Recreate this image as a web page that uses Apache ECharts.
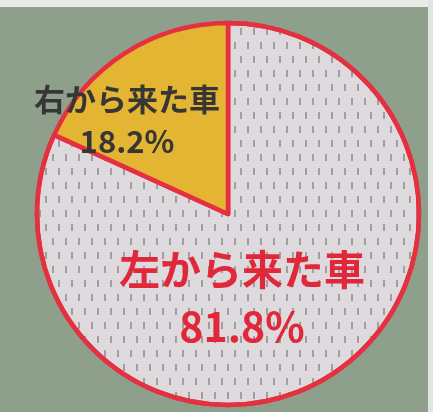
<!DOCTYPE html>
<html><head><meta charset="utf-8">
<script src="https://cdn.jsdelivr.net/npm/echarts@6/dist/echarts.min.js"></script>
<style>html,body{margin:0;padding:0;background:#8e9f8b;}#c{width:433px;height:412px;}</style>
</head><body><div id="c"></div>
<script>
const categories = ['左から来た車', '右から来た車'];
const values = [81.8, 18.2];
const sliceColors = ['#ddd9dc', '#e3b533'];
const labelColors = ['#e0283a', '#383634'];

const chart = echarts.init(document.getElementById('c'), null, {renderer: 'canvas'});
const labelPos = [{x: 242, y: 298}, {x: 127, y: 120}];
const dashDecal = {
  symbol: 'rect',
  symbolSize: 1,
  color: 'rgba(105,98,104,0.5)',
  dashArrayX: [[1.5, 10.5], [0, 6, 1.5, 4.5]],
  dashArrayY: [7, 7]
};
chart.setOption({
  backgroundColor: '#8e9f8b',
  animation: false,
  graphic: [
    {type: 'rect', shape: {x: 0, y: 0, width: 433, height: 7}, style: {fill: '#e6ebe8'}},
    {type: 'rect', shape: {x: 428, y: 0, width: 5, height: 412}, style: {fill: '#dfe5e1'}}
  ],
  series: [{
    type: 'pie',
    center: [228, 214],
    radius: 191,
    startAngle: 90,
    clockwise: true,
    silent: true,
    data: categories.map((c, i) => {
      const itemStyle = {color: sliceColors[i]};
      if (i === 0) itemStyle.decal = dashDecal;
      return {
        name: c,
        value: values[i],
        itemStyle: itemStyle,
        label: {
          color: labelColors[i],
          fontSize: i === 0 ? 41 : 31,
          lineHeight: i === 0 ? 57 : 42
        }
      };
    }),
    itemStyle: {borderColor: '#e5303f', borderWidth: 4.5},
    label: {
      show: true,
      position: 'inside',
      fontFamily: 'Noto Sans CJK JP',
      fontWeight: 'bold',
      align: 'center',
      verticalAlign: 'middle',
      formatter: p => p.name + '\n' + p.value.toFixed(1) + '%'
    },
    labelLine: {show: false},
    labelLayout: p => ({x: labelPos[p.dataIndex].x, y: labelPos[p.dataIndex].y, align: 'center', verticalAlign: 'middle'})
  }]
});
</script></body></html>
